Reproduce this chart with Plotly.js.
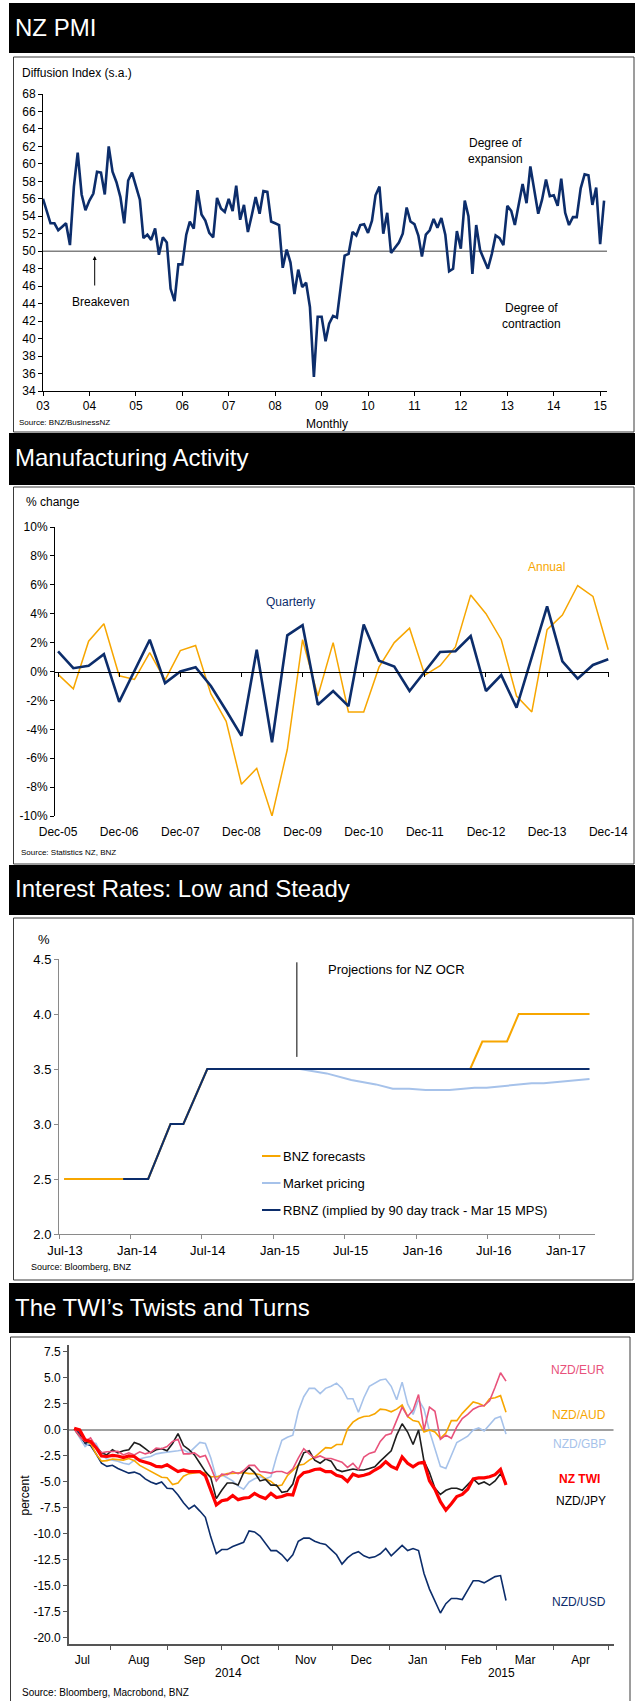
<!DOCTYPE html>
<html>
<head>
<meta charset="utf-8">
<script src="https://cdn.plot.ly/plotly-3.0.1.min.js"></script>
<style>
html,body{margin:0;padding:0;background:#fff;}
#chart{width:638px;height:1701px;}
</style>
</head>
<body>
<div id="chart"></div>
<script>
// ================= DATA =================
// Panel 1: NZ PMI, monthly from Jan 2003
const pmiStartYear = 2003;
const pmiValues = [
  56.0,54.4,53.2,53.2,52.4,52.8,53.2,50.7,57.4,61.3,56.5,54.7,
  55.8,56.6,59.1,59.0,56.5,62.0,59.1,57.9,56.2,53.2,58.1,59.0,
  57.4,55.9,51.5,51.9,51.3,52.6,49.6,51.6,51.0,45.7,44.3,48.5,
  48.5,51.9,53.4,52.6,57.0,54.2,53.5,52.1,51.6,56.1,54.9,54.5,
  56.0,54.6,57.5,53.6,55.3,52.2,54.1,56.2,54.3,56.9,56.8,53.4,
  53.2,53.0,48.1,50.2,48.7,45.1,47.9,45.9,46.4,43.6,35.6,42.5,
  42.5,39.7,41.7,42.6,42.4,45.9,49.5,49.7,52.2,51.8,53.0,53.1,
  52.1,53.5,56.4,57.4,52.0,54.4,49.8,50.4,51.0,52.0,55.0,53.4,
  53.1,51.8,49.4,51.9,52.4,53.7,52.7,53.8,51.9,47.7,48.0,52.3,
  50.3,55.8,54.0,47.4,53.0,50.1,49.0,48.0,49.7,51.8,51.5,50.7,
  55.2,54.6,53.0,55.3,57.7,55.5,59.7,57.0,54.3,55.9,58.2,56.3,
  56.4,55.2,58.3,54.4,53.0,53.9,53.9,57.2,58.8,58.7,55.3,57.3,
  50.8,55.8
];
const pmiYearLabels = ['03','04','05','06','07','08','09','10','11','12','13','14','15'];

// Panel 2: Manufacturing activity, quarterly
const mfgQuarters = ['Dec-05','Mar-06','Jun-06','Sep-06','Dec-06','Mar-07','Jun-07','Sep-07','Dec-07',
  'Mar-08','Jun-08','Sep-08','Dec-08','Mar-09','Jun-09','Sep-09','Dec-09','Mar-10','Jun-10','Sep-10','Dec-10',
  'Mar-11','Jun-11','Sep-11','Dec-11','Mar-12','Jun-12','Sep-12','Dec-12','Mar-13','Jun-13','Sep-13','Dec-13',
  'Mar-14','Jun-14','Sep-14','Dec-14'];
const mfgQuarterly = [1.4,0.23,0.4,1.2,-2.1,0.0,2.2,-0.8,0.0,0.3,-1.0,-2.7,-4.45,1.5,-4.9,2.5,3.2,-2.3,-1.35,-2.4,
  3.25,0.75,0.35,-1.35,0.0,1.35,1.4,2.45,-1.35,-0.25,-2.5,1.0,4.5,0.7,-0.5,0.45,0.85];
const mfgAnnual = [-0.2,-1.2,2.1,3.3,-0.3,-0.55,1.3,-0.6,1.45,1.8,-1.55,-3.45,-7.8,-6.7,-10.0,-5.4,2.2,-1.7,2.0,-2.8,
  -2.8,0.3,2.0,3.0,-0.25,0.4,1.7,5.3,4.0,2.2,-1.7,-2.8,2.9,3.9,5.95,5.2,1.5];
const mfgTickLabels = ['Dec-05','Dec-06','Dec-07','Dec-08','Dec-09','Dec-10','Dec-11','Dec-12','Dec-13','Dec-14'];
const mfgYTicks = [-10,-8,-6,-4,-2,0,2,4,6,8,10];
const mfgYTickText = ['-10%','-8%','-6%','-4%','-2%','0%','2%','4%','6%','8%','10%'];

// Panel 3: OCR projections
const rbnzDates = ['2013-12-12','2014-02-14','2014-04-12','2014-05-15','2014-07-15','2017-03-18'];
const rbnzValues = [2.5,2.5,3.0,3.0,3.5,3.5];
const bnzDates = ['2013-07-14','2013-12-12','2014-02-14','2014-04-12','2014-05-15','2014-07-15','2016-05-17','2016-06-17','2016-08-19','2016-09-18','2017-03-18'];
const bnzValues = [2.5,2.5,2.5,3.0,3.0,3.5,3.5,3.75,3.75,4.0,4.0];
const marketDates = ['2013-07-14','2013-12-12','2014-02-14','2014-04-12','2014-05-15','2014-07-15','2015-03-09','2015-05-16',
  '2015-07-18','2015-09-19','2015-11-01','2015-12-13','2016-01-24','2016-03-25','2016-05-28','2016-06-28','2016-08-30',
  '2016-10-21','2016-11-21','2017-01-12','2017-03-18'];
const marketValues = [2.5,2.5,2.5,3.0,3.0,3.5,3.5,3.46,3.40,3.36,3.32,3.32,3.31,3.31,3.33,3.33,3.35,3.37,3.37,3.39,3.41];
const ocrTickDates = ['2013-07-01','2014-01-01','2014-07-01','2015-01-01','2015-07-01','2016-01-01','2016-07-01','2017-01-01'];
const ocrMpsDate = '2015-03-01';

// Panel 4: TWI components, % change, sampled every 3 days from 9 Jul 2014
const twiBaseDate = '2014-07-09';
const twiDays = [3,6,9,12,15,18,21,24,27,30,33,36,39,42,45,48,51,54,57,60,63,66,69,72,75,78,81,84,87,90,
  93,96,99,102,105,108,111,114,117,120,123,126,129,132,135,138,141,144,147,150,153,156,159,162,165,168,171,174,177,180,
  183,186,189,192,195,198,201,204,207,210,213,216,219,222,225,228,231,234,237,240];
const nzdUsd = [0.1,-0.3,-1.3,-1.5,-2.3,-3.2,-3.5,-3.4,-3.7,-3.95,-4.15,-4.05,-4.25,-4.7,-5.0,-5.2,-5.0,-5.6,-5.65,-6.25,
  -7.0,-7.6,-7.25,-7.8,-8.4,-10.3,-11.9,-11.5,-11.5,-11.2,-11.0,-10.8,-9.7,
  -9.8,-10.2,-10.9,-11.6,-11.6,-12.0,-12.6,-12.0,-10.7,-10.4,-10.4,-10.7,-10.9,-11.0,-11.5,-12.0,-12.9,-12.3,-11.9,-11.7,
  -12.1,-12.3,-12.2,-11.9,-11.4,-12.1,-11.6,-11.1,-11.6,-11.4,-11.6,-13.8,-15.3,
  -16.4,-17.6,-16.7,-16.2,-16.2,-16.3,-15.4,-14.5,-14.5,-14.7,-14.4,-14.1,-14.0,-16.4];
const nzdGbp = [0.1,-0.7,-1.6,-1.2,-1.3,-2.4,-2.8,-2.9,-3.0,-3.2,-3.3,-2.9,-2.75,-2.65,-2.55,-2.3,-2.2,-2.15,-2.05,-2.0,
  -1.9,-2.2,-1.7,-1.2,-1.3,-2.7,-4.6,-4.3,-4.6,-4.9,-5.4,-5.7,-5.0,-4.7,-4.5,-4.7,-4.5,-2.6,-1.0,-0.7,
  -0.5,1.8,3.2,4.0,4.0,3.5,4.0,4.2,4.5,
  4.0,3.0,3.0,1.7,3.1,4.2,4.5,4.8,4.9,4.2,2.9,4.6,2.5,1.5,2.9,2.0,-0.1,-1.7,-3.5,-3.7,
  -2.4,-1.2,-0.9,-0.6,0.0,0.2,-0.1,0.5,1.1,1.3,-0.4];
const nzdAud = [0.1,-0.6,-1.1,-1.3,-2.3,-3.0,-2.95,-2.8,-2.85,-2.9,-2.75,-2.95,-3.4,-3.7,-4.0,-4.3,-4.55,-4.6,-5.25,-5.1,
  -4.45,-4.2,-4.1,-4.05,-4.15,-4.5,-4.5,-4.4,-4.2,-4.15,-4.1,-4.1,-4.2,-4.2,-4.3,-4.7,-4.95,-5.4,-5.3,-4.4,
  -3.9,-3.4,-3.3,-2.9,-2.6,-2.1,-1.7,-1.75,-1.4,
  -1.4,0.1,0.75,1.1,1.3,1.35,1.55,2.0,1.95,1.75,2.0,2.4,1.3,0.9,0.8,-0.2,0.0,-0.2,-0.8,-0.3,
  0.9,0.9,1.6,2.2,2.7,2.55,2.3,3.0,3.1,3.3,1.7];
const nzdJpy = [0.1,-0.6,-1.2,-1.1,-1.6,-2.2,-2.4,-1.9,-2.2,-2.0,-1.9,-1.2,-1.4,-1.8,-2.2,-1.9,-1.8,-2.0,-1.3,-0.35,
  -1.5,-1.9,-2.4,-3.2,-4.0,-4.6,-6.6,-5.8,-5.1,-5.1,-5.3,-4.1,-3.6,-4.1,-4.9,-4.75,-5.3,-5.3,-6.0,-5.9,
  -5.2,-3.4,-2.2,-2.0,-2.9,-3.2,-2.8,-3.0,-3.8,
  -4.0,-3.9,-3.75,-3.85,-3.85,-3.7,-3.55,-3.0,-2.45,-2.0,-0.5,0.6,-0.2,-1.4,0.0,-3.0,-4.1,-5.6,-6.2,-5.8,
  -5.6,-5.6,-5.8,-5.3,-4.7,-5.2,-5.0,-5.3,-4.9,-4.2,-5.1];
const nzdEur = [0.1,-0.6,-1.1,-0.75,-1.6,-2.2,-2.1,-2.1,-2.05,-2.4,-2.2,-2.4,-2.1,-2.3,-2.15,-1.75,-1.8,-1.6,-1.1,-0.9,
  -2.3,-2.3,-2.2,-2.6,-2.45,-3.6,-4.9,-4.25,-4.3,-4.0,-4.2,-3.9,-3.4,-3.4,-4.0,-4.05,-4.15,-4.0,-4.0,-4.2,
  -3.75,-2.7,-1.8,-2.3,-2.7,-2.5,-2.75,-2.75,-2.9,
  -3.1,-3.6,-3.2,-3.8,-2.6,-2.25,-2.1,-1.1,-0.5,-0.35,0.9,2.2,1.3,1.9,3.4,0.0,2.2,1.8,-0.9,-0.5,
  -0.8,0.3,1.1,1.5,2.0,2.25,2.35,2.8,4.1,5.5,4.7];
const nzTwi = [0.15,0.0,-0.95,-1.1,-1.7,-2.5,-2.55,-2.45,-2.5,-2.65,-2.5,-2.55,-2.95,-3.1,-3.25,-3.5,-3.55,-3.35,-3.7,-4.0,
  -3.85,-4.0,-4.0,-4.0,-4.4,-5.7,-7.2,-6.8,-6.7,-6.3,-6.7,-6.55,-6.5,-6.1,-6.4,-6.6,-6.1,-6.5,-6.4,-6.2,
  -6.25,-4.6,-4.1,-4.0,-3.8,-3.75,-4.0,-4.0,-4.35,
  -4.5,-4.95,-4.25,-4.45,-4.35,-4.2,-3.85,-3.55,-3.05,-3.5,-3.75,-2.6,-3.2,-3.55,-3.2,-3.1,-4.9,-5.7,-6.9,-7.7,
  -7.1,-6.4,-6.2,-5.7,-4.7,-4.6,-4.6,-4.5,-4.3,-3.8,-5.3];
const twiYTicks = [-20,-17.5,-15,-12.5,-10,-7.5,-5,-2.5,0,2.5,5,7.5];
const twiYTickText = ['-20.0','-17.5','-15.0','-12.5','-10.0','-7.5','-5.0','-2.5','0.0','2.5','5.0','7.5'];

// ================= BUILD =================
const W = 638, H = 1701;
const fx = p => p / W;
const fy = p => 1 - p / H;
const FONT = 'Arial, "Liberation Sans", sans-serif';
const NAVY = '#0c2d6b', ORANGE = '#f7a600', LBLUE = '#a6c2ea', PINK = '#e8527b', RED = '#ff0000', BLACK = '#1e1e1e';

const pmiDates = pmiValues.map((v, i) => {
  const y = pmiStartYear + Math.floor(i / 12), m = (i % 12) + 1;
  return y + '-' + String(m).padStart(2, '0') + '-01';
});
const pmiTickVals = pmiYearLabels.map(s => '20' + s + '-01-01');

const base = Date.UTC(+twiBaseDate.slice(0,4), +twiBaseDate.slice(5,7) - 1, +twiBaseDate.slice(8,10));
const twiDates = twiDays.map(d => new Date(base + d * 86400000).toISOString().slice(0, 10));

const traces = [
  {x: pmiDates, y: pmiValues, xaxis: 'x', yaxis: 'y', mode: 'lines', line: {color: NAVY, width: 2.6}},
  {x: mfgQuarters, y: mfgAnnual, xaxis: 'x2', yaxis: 'y2', mode: 'lines', line: {color: ORANGE, width: 1.5}},
  {x: mfgQuarters, y: mfgQuarterly, xaxis: 'x2', yaxis: 'y2', mode: 'lines', line: {color: NAVY, width: 2.6}},
  {x: [], y: [], xaxis: 'x5', yaxis: 'y2', mode: 'lines'},
  {x: marketDates, y: marketValues, xaxis: 'x3', yaxis: 'y3', mode: 'lines', line: {color: LBLUE, width: 2}},
  {x: bnzDates, y: bnzValues, xaxis: 'x3', yaxis: 'y3', mode: 'lines', line: {color: ORANGE, width: 2}},
  {x: rbnzDates, y: rbnzValues, xaxis: 'x3', yaxis: 'y3', mode: 'lines', line: {color: NAVY, width: 2}},
  {x: twiDates, y: nzdUsd, xaxis: 'x4', yaxis: 'y4', mode: 'lines', line: {color: NAVY, width: 1.6}},
  {x: twiDates, y: nzdGbp, xaxis: 'x4', yaxis: 'y4', mode: 'lines', line: {color: LBLUE, width: 1.6}},
  {x: twiDates, y: nzdAud, xaxis: 'x4', yaxis: 'y4', mode: 'lines', line: {color: ORANGE, width: 1.6}},
  {x: twiDates, y: nzdJpy, xaxis: 'x4', yaxis: 'y4', mode: 'lines', line: {color: BLACK, width: 1.6}},
  {x: twiDates, y: nzdEur, xaxis: 'x4', yaxis: 'y4', mode: 'lines', line: {color: PINK, width: 1.6}},
  {x: twiDates, y: nzTwi, xaxis: 'x4', yaxis: 'y4', mode: 'lines', line: {color: RED, width: 3.2}}
];

const ax = (extra) => Object.assign({
  showgrid: false, zeroline: false, ticks: 'outside', ticklen: 4, tickwidth: 1,
  showline: true, linewidth: 1, linecolor: '#000', tickcolor: '#000',
  tickfont: {family: FONT, size: 12, color: '#000'}, fixedrange: true
}, extra);

const shapes = [];
const annotations = [];
function header(y0, y1, text, yc) {
  shapes.push({type: 'rect', xref: 'paper', yref: 'paper', x0: fx(9), x1: fx(635), y0: fy(y1), y1: fy(y0),
    fillcolor: '#000', line: {width: 0}, layer: 'below'});
  annotations.push({xref: 'paper', yref: 'paper', x: fx(13), y: fy(yc), xanchor: 'left', yanchor: 'middle',
    text: text, showarrow: false, font: {family: FONT, size: 24, color: '#fff'}});
}
function box(x0, x1, y0, y1) {
  shapes.push({type: 'rect', xref: 'paper', yref: 'paper', x0: fx(x0), x1: fx(x1), y0: fy(y1), y1: fy(y0),
    line: {color: '#3a3a3a', width: 1}, fillcolor: 'rgba(0,0,0,0)'});
}
function label(text, x, y, opts) {
  opts = opts || {};
  annotations.push(Object.assign({xref: 'paper', yref: 'paper', x: fx(x), y: fy(y), xanchor: opts.anchor || 'left',
    yanchor: 'middle', text: text, showarrow: false,
    font: {family: FONT, size: opts.size || 12, color: opts.color || '#000'}}, opts.extra || {}));
}

// Headers and frames
header(3, 53, 'NZ PMI', 27.5);
header(433, 485, 'Manufacturing Activity', 458);
header(865, 915, 'Interest Rates: Low and Steady', 888.5);
header(1283, 1333, 'The TWI\u2019s Twists and Turns', 1307);
box(13.5, 634, 57, 432);
box(13.5, 634, 487, 864);
box(13.5, 633, 918, 1280);
box(10.5, 630, 1337, 1703);

// Panel 1 texts
label('Diffusion Index (s.a.)', 20, 73);
label('Degree of<br>expansion', 495, 151, {anchor: 'center'});
label('Degree of<br>contraction', 531, 316, {anchor: 'center'});
label('Breakeven', 100.7, 302, {anchor: 'center'});
label('Monthly', 327, 424, {anchor: 'center'});
label('Source: BNZ/BusinessNZ', 17, 423, {size: 8});
annotations.push({xref: 'paper', yref: 'paper', x: fx(94.7), y: fy(256), ax: 0, ay: 31, text: '',
  showarrow: true, arrowhead: 2, arrowsize: 0.8, arrowwidth: 1, arrowcolor: '#000'});
shapes.push({type: 'line', xref: 'x domain', yref: 'y', x0: 0, x1: 1, y0: 50, y1: 50,
  line: {color: '#808080', width: 1.6}, layer: 'below'});

// Panel 2 texts
label('% change', 23.7, 502);
label('Annual', 546, 567, {anchor: 'center', color: ORANGE});
label('Quarterly', 290, 602, {anchor: 'center', color: NAVY});
label('Source: Statistics NZ, BNZ', 19, 853, {size: 8});

// Panel 3 texts and legend
label('%', 43.8, 939, {anchor: 'center', size: 13});
label('Projections for NZ OCR', 326, 969, {size: 13});
const legendItems = [['BNZ forecasts', ORANGE, 1156], ['Market pricing', LBLUE, 1183],
  ['RBNZ (implied by 90 day track - Mar 15 MPS)', NAVY, 1210]];
legendItems.forEach(([t, c, y]) => {
  shapes.push({type: 'line', xref: 'paper', yref: 'paper', x0: fx(262), x1: fx(280.5), y0: fy(y), y1: fy(y),
    line: {color: c, width: 2}});
  label(t, 280.5, y, {size: 13});
});
label('Source: Bloomberg, BNZ', 28.6, 1267, {size: 9});
shapes.push({type: 'line', xref: 'x3', yref: 'y3', x0: ocrMpsDate, x1: ocrMpsDate, y0: 3.61, y1: 4.47,
  line: {color: '#000', width: 1}});

// Panel 4 texts
label('percent', 24.5, 1495, {anchor: 'center', extra: {textangle: -90}});
label('NZD/EUR', 578, 1370, {anchor: 'center', color: PINK});
label('NZD/AUD', 579, 1415, {anchor: 'center', color: ORANGE});
label('NZD/GBP', 579, 1444, {anchor: 'center', color: LBLUE});
label('<b>NZ TWI</b>', 579, 1479, {anchor: 'center', color: RED});
label('NZD/JPY', 581, 1501, {anchor: 'center', color: '#000'});
label('NZD/USD', 578.7, 1602, {anchor: 'center', color: NAVY});
label('2014', 228.6, 1673, {anchor: 'center'});
label('2015', 501, 1673, {anchor: 'center'});
label('Source: Bloomberg, Macrobond, BNZ', 19.6, 1692, {size: 10});
shapes.push({type: 'line', xref: 'x4 domain', yref: 'y4', x0: 0, x1: 1, y0: 0, y1: 0,
  line: {color: '#808080', width: 1.6}, layer: 'below'});

const layout = {
  width: W, height: H,
  margin: {l: 0, r: 0, t: 0, b: 0},
  paper_bgcolor: '#fff', plot_bgcolor: 'rgba(0,0,0,0)',
  showlegend: false,
  font: {family: FONT, size: 12, color: '#000'},
  // Panel 1
  xaxis: ax({type: 'date', domain: [fx(43), fx(607)], anchor: 'y', range: ['2003-01-01', '2015-02-24'],
    tickmode: 'array', tickvals: pmiTickVals, ticktext: pmiYearLabels}),
  yaxis: ax({domain: [fy(391), fy(94)], anchor: 'x', range: [34, 68], tickmode: 'linear', tick0: 34, dtick: 2}),
  // Panel 2
  xaxis2: ax({type: 'category', domain: [fx(55), fx(609)], anchor: 'y2', range: [-0.2, 36.05],
    tickmode: 'array', tickvals: mfgTickLabels, ticktext: mfgTickLabels, showline: false,
    tickcolor: 'rgba(0,0,0,0)', ticklen: 5}),
  yaxis2: ax({domain: [fy(816), fy(527)], anchor: 'x2', range: [-10, 10],
    tickmode: 'array', tickvals: mfgYTicks, ticktext: mfgYTickText}),
  xaxis5: ax({type: 'linear', overlaying: 'x2', anchor: 'free', position: fy((527 + 816) / 2),
    domain: [fx(55), fx(609)], range: [-0.2, 36.05], tickmode: 'array', tickvals: [0,4,8,12,16,20,24,28,32,36],
    showticklabels: false, ticklen: 4}),
  // Panel 3
  xaxis3: ax({type: 'date', domain: [fx(59), fx(595)], anchor: 'y3', range: ['2013-07-01', '2017-04-01'],
    tickmode: 'array', tickvals: ocrTickDates, tickformat: '%b-%y', ticklabelshift: 6,
    linecolor: '#8a8a8a', tickcolor: '#8a8a8a', tickfont: {family: FONT, size: 13, color: '#000'}}),
  yaxis3: ax({domain: [fy(1234), fy(959)], anchor: 'x3', range: [2, 4.5], tickmode: 'linear', tick0: 2, dtick: 0.5,
    tickformat: '.1f', linecolor: '#8a8a8a', tickcolor: '#8a8a8a', tickfont: {family: FONT, size: 13, color: '#000'}}),
  // Panel 4
  xaxis4: ax({type: 'date', domain: [fx(68.7), fx(613.5)], anchor: 'y4', range: ['2014-07-09', '2015-05-04'],
    tickmode: 'linear', tick0: '2014-07-01', dtick: 'M1', tickformat: '%b', ticklabelmode: 'period',
    linecolor: '#555', tickcolor: '#555', linewidth: 1.5}),
  yaxis4: ax({domain: [fy(1644), fy(1345)], anchor: 'x4', range: [-20.58, 8.17],
    tickmode: 'array', tickvals: twiYTicks, ticktext: twiYTickText, linecolor: '#555', tickcolor: '#555', linewidth: 1.5}),
  shapes: shapes,
  annotations: annotations
};

Plotly.newPlot('chart', traces, layout, {staticPlot: true, displayModeBar: false});
</script>
</body>
</html>
